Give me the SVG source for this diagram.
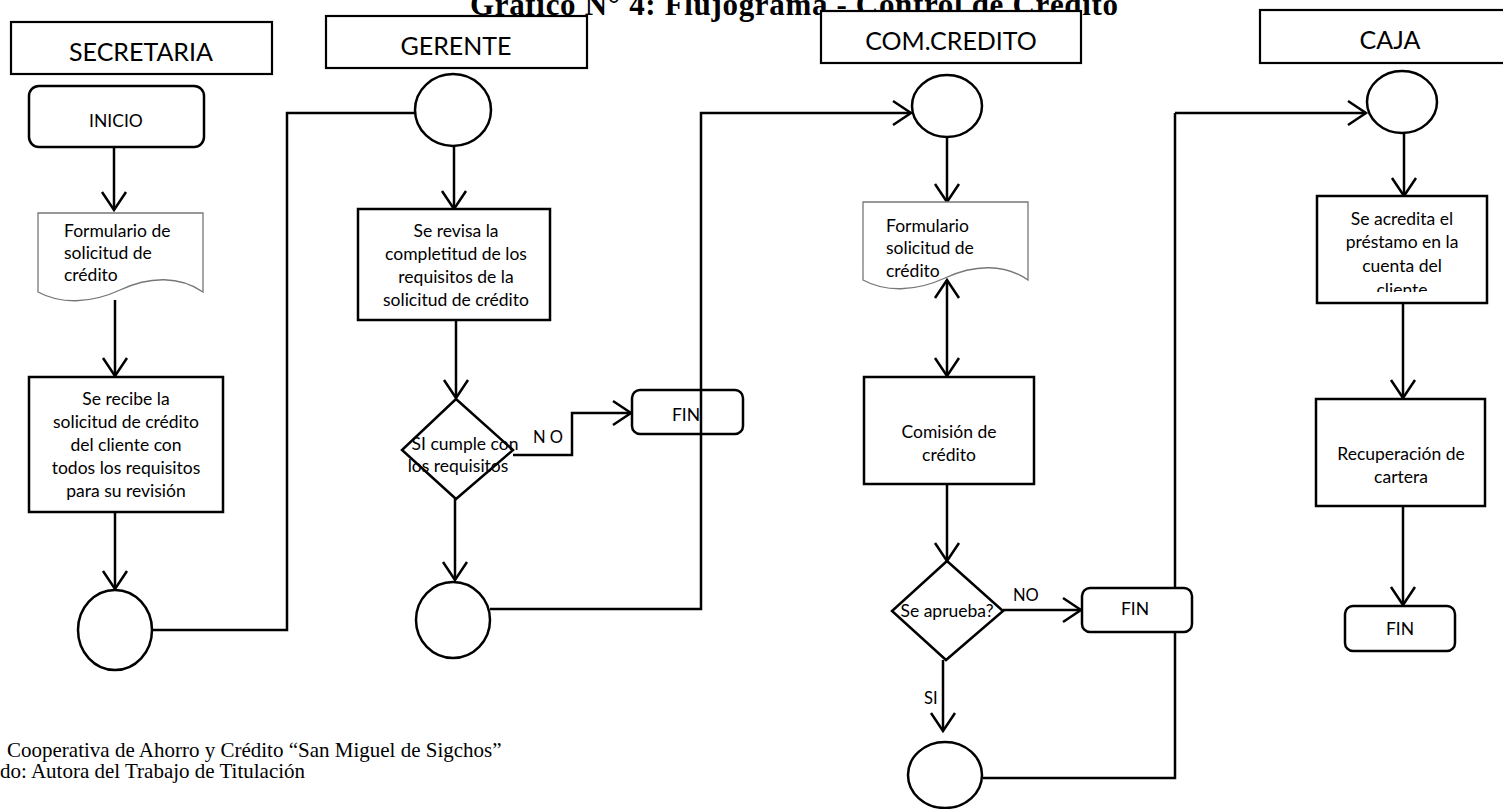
<svg xmlns="http://www.w3.org/2000/svg" width="1503" height="809" viewBox="0 0 1503 809">
  <style>
    .lane { fill: #fff; stroke: #000; stroke-width: 2.2; }
    .lane-t { font-family: Lato, "Open Sans", sans-serif; font-size: 25px; fill: #000; text-anchor: middle; }
    .box { fill: #fff; stroke: #000; stroke-width: 2.5; }
    .doc { fill: #fff; stroke: #777; stroke-width: 1.3; }
    .t { font-family: Lato, "Open Sans", sans-serif; font-size: 17.5px; fill: #000; text-anchor: middle; }
    .tl { font-family: Lato, "Open Sans", sans-serif; font-size: 17.5px; fill: #000; }
    .lbl { font-family: Lato, "Open Sans", sans-serif; font-size: 16.5px; fill: #000; }
    .edge { fill: none; stroke: #000; stroke-width: 2.5; }
    .arrow { marker-end: url(#head); }
    .title { font-family: "Liberation Serif", "Times New Roman", serif; font-weight: bold; font-size: 31px; fill: #000; }
    .foot { font-family: "Liberation Serif", "Times New Roman", serif; font-size: 21px; fill: #000; }
  </style>
  <defs>
    <marker id="head" viewBox="-21 -14 25 28" refX="0" refY="0" markerWidth="25" markerHeight="28" markerUnits="userSpaceOnUse" orient="auto-start-reverse">
      <path d="M-18,-12 L0,0 L-18,12" fill="none" stroke="#000" stroke-width="2.5"/>
    </marker>
    <clipPath id="clip-acredita">
      <rect x="1317" y="196" width="170" height="96"/>
    </clipPath>
  </defs>

  <!-- title (partly covered by the lane headers) -->
  <text class="title" x="470" y="15" textLength="648" lengthAdjust="spacing">Gráfico N°  4: Flujograma  - Control de Crédito</text>

  <!-- lane headers -->
  <g id="lane-secretaria">
    <rect class="lane" x="11" y="22" width="261" height="52"/>
    <text class="lane-t" x="141" y="61">SECRETARIA</text>
  </g>
  <g id="lane-gerente">
    <rect class="lane" x="326" y="16" width="261" height="52"/>
    <text class="lane-t" x="456" y="55">GERENTE</text>
  </g>
  <g id="lane-comcredito">
    <rect class="lane" x="821" y="11" width="260" height="52"/>
    <text class="lane-t" x="951" y="50">COM.CREDITO</text>
  </g>
  <g id="lane-caja">
    <rect class="lane" x="1260" y="10" width="260" height="53"/>
    <text class="lane-t" x="1390" y="49">CAJA</text>
  </g>

  <!-- connectors -->
  <g id="connectors">
    <path class="edge arrow" d="M114,147 V210"/>
    <path class="edge arrow" d="M115,300 V376"/>
    <path class="edge arrow" d="M115,512 V589"/>
    <path class="edge" d="M152,630 H287 V113 H416"/>
    <path class="edge arrow" d="M454,146 V209"/>
    <path class="edge arrow" d="M456,320 V398"/>
    <path class="edge arrow" d="M513,455 H572 V413 H631"/>
    <path class="edge arrow" d="M455,499 V580"/>
    <path class="edge arrow" d="M490,609 H701 V113 H911"/>
    <path class="edge arrow" d="M947,137 V202"/>
    <path class="edge arrow" d="M947,280 V376" marker-start="url(#head)"/>
    <path class="edge arrow" d="M947,484 V561"/>
    <path class="edge arrow" d="M1003,610 H1081"/>
    <path class="edge arrow" d="M943,660 V731"/>
    <path class="edge" d="M983,778 H1175 V113"/>
    <path class="edge arrow" d="M1175,113 H1366"/>
    <path class="edge arrow" d="M1404,133 V196"/>
    <path class="edge arrow" d="M1403,303 V398"/>
    <path class="edge arrow" d="M1403,506 V605"/>
    <text class="lbl" x="533" y="443">N O</text>
    <text class="lbl" x="1013" y="601">NO</text>
    <text class="lbl" x="924" y="704">SI</text>
  </g>

  <!-- SECRETARIA lane -->
  <g id="inicio">
    <rect class="box" x="29" y="86" width="175" height="61" rx="10"/>
    <text class="t" x="116" y="127" font-size="16.5">INICIO</text>
  </g>
  <g id="formulario-secretaria">
    <path class="doc" d="M38,213 H203 V292 C180,276 150,276 120,290 C90,304 60,304 38,292 Z"/>
    <text class="tl" x="64" y="237">Formulario de</text>
    <text class="tl" x="64" y="259">solicitud de</text>
    <text class="tl" x="64" y="281">crédito</text>
  </g>
  <g id="recibe-solicitud">
    <rect class="box" x="29" y="377" width="194" height="135"/>
    <text class="t" x="126" y="405">Se recibe la</text>
    <text class="t" x="126" y="428">solicitud de crédito</text>
    <text class="t" x="126" y="451">del cliente con</text>
    <text class="t" x="126" y="474">todos los requisitos</text>
    <text class="t" x="126" y="497">para su revisión</text>
  </g>
  <g id="conector-secretaria">
    <ellipse class="box" cx="115" cy="630" rx="37" ry="40"/>
  </g>

  <!-- GERENTE lane -->
  <g id="conector-gerente-in">
    <ellipse class="box" cx="453" cy="110" rx="38" ry="36"/>
  </g>
  <g id="revisa-requisitos">
    <rect class="box" x="358" y="209" width="192" height="111"/>
    <text class="t" x="456" y="237">Se revisa la</text>
    <text class="t" x="456" y="260">completitud de los</text>
    <text class="t" x="456" y="283">requisitos de la</text>
    <text class="t" x="456" y="306">solicitud de crédito</text>
  </g>
  <g id="decision-cumple">
    <polygon class="box" points="456,399 513,450 456,499 402,450"/>
    <text class="t" x="465" y="450">SI cumple con</text>
    <text class="t" x="458" y="472">los requisitos</text>
  </g>
  <g id="fin-gerente">
    <rect class="box" x="632" y="390" width="111" height="44" rx="8" style="fill:none"/>
    <text class="t" x="686" y="421" font-size="16.5">FIN</text>
  </g>
  <g id="conector-gerente-out">
    <ellipse class="box" cx="453" cy="620" rx="37" ry="38"/>
  </g>

  <!-- COM.CREDITO lane -->
  <g id="conector-comision-in">
    <ellipse class="box" cx="947" cy="106" rx="35" ry="31"/>
  </g>
  <g id="formulario-comision">
    <path class="doc" d="M863,202 H1028 V280 C1005,264 975,264 945,278 C915,292 885,292 863,280 Z"/>
    <text class="tl" x="886" y="232">Formulario</text>
    <text class="tl" x="886" y="254">solicitud de</text>
    <text class="tl" x="886" y="277">crédito</text>
  </g>
  <g id="comision-credito">
    <rect class="box" x="864" y="377" width="170" height="107"/>
    <text class="t" x="949" y="438">Comisión de</text>
    <text class="t" x="949" y="461">crédito</text>
  </g>
  <g id="decision-aprueba">
    <polygon class="box" points="947,561 1003,611 946,660 892,611"/>
    <text class="t" x="947" y="617">Se aprueba?</text>
  </g>
  <g id="fin-comision">
    <rect class="box" x="1082" y="588" width="110" height="44" rx="8"/>
    <text class="t" x="1135" y="615" font-size="16.5">FIN</text>
  </g>
  <g id="conector-comision-out">
    <ellipse class="box" cx="945" cy="775" rx="37" ry="33"/>
  </g>

  <!-- CAJA lane -->
  <g id="conector-caja-in">
    <ellipse class="box" cx="1402" cy="102" rx="35" ry="31"/>
  </g>
  <g id="acredita-prestamo">
    <rect class="box" x="1317" y="196" width="170" height="107"/>
    <g clip-path="url(#clip-acredita)">
      <text class="t" x="1402" y="225">Se acredita el</text>
      <text class="t" x="1402" y="248">préstamo en la</text>
      <text class="t" x="1402" y="272">cuenta del</text>
      <text class="t" x="1402" y="296">cliente</text>
    </g>
  </g>
  <g id="recuperacion-cartera">
    <rect class="box" x="1316" y="399" width="169" height="107"/>
    <text class="t" x="1401" y="460">Recuperación de</text>
    <text class="t" x="1401" y="483">cartera</text>
  </g>
  <g id="fin-caja">
    <rect class="box" x="1345" y="606" width="110" height="45" rx="8"/>
    <text class="t" x="1400" y="635" font-size="16.5">FIN</text>
  </g>

  <!-- source note -->
  <text class="foot" x="7" y="757">Cooperativa de Ahorro y Crédito “San Miguel de Sigchos”</text>
  <text class="foot" x="0" y="778">do: Autora del Trabajo de Titulación</text>
</svg>
